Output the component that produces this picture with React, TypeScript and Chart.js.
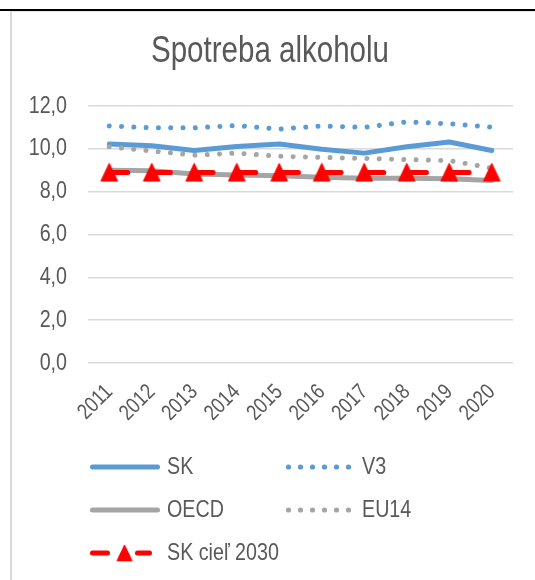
import React, { useEffect, useRef } from "react";
import { Chart, registerables } from "chart.js";

Chart.register(...registerables);

const categories = ["2011", "2012", "2013", "2014", "2015", "2016", "2017", "2018", "2019", "2020"];
const skValues = [10.22, 10.14, 9.92, 10.11, 10.23, 9.98, 9.8, 10.1, 10.32, 9.92];
const v3Values = [11.07, 10.98, 10.98, 11.09, 10.92, 11.07, 11.0, 11.26, 11.17, 11.01];
const oecdValues = [9.0, 8.98, 8.83, 8.78, 8.74, 8.67, 8.63, 8.63, 8.6, 8.52];
const eu14Values = [10.1, 9.9, 9.7, 9.8, 9.65, 9.6, 9.55, 9.5, 9.45, 9.1];
const skTarget2030 = [8.9, 8.9, 8.9, 8.9, 8.9, 8.9, 8.9, 8.9, 8.9, 8.9];
const yTicks = [0, 2, 4, 6, 8, 10, 12];
const titleText = "Spotreba alkoholu";
const legendLabels = ["SK", "V3", "OECD", "EU14", "SK cieľ 2030"];

const FONT = "'Liberation Sans Narrow', 'Arial Narrow', 'Liberation Sans', Arial, sans-serif";
const NARROW = 0.82; // horizontal condensation to mimic Arial Narrow
const TEXT = "#595959";
const BLUE = "#5B9BD5";
const GRAY = "#A5A5A5";
const RED = "#FF0000";

function makeTriangle(): HTMLCanvasElement {
  const c = document.createElement("canvas");
  c.width = 20;
  c.height = 20;
  const g = c.getContext("2d")!;
  g.fillStyle = RED;
  g.strokeStyle = RED;
  g.lineJoin = "round";
  g.lineWidth = 1.5;
  g.beginPath();
  g.moveTo(10, 1.5);
  g.lineTo(18, 18.5);
  g.lineTo(2, 18.5);
  g.closePath();
  g.fill();
  g.stroke();
  return c;
}

export default function App() {
  const ref = useRef<HTMLCanvasElement>(null);

  useEffect(() => {
    const tri = makeTriangle();

    const narrowText = {
      id: "narrowText",
      beforeInit(chart: any) {
        const ctx = chart.ctx as any;
        if (ctx.__narrow) return;
        ctx.__narrow = true;
        const orig = ctx.fillText;
        ctx.fillText = function (t: string, x: number, y: number, mw?: number) {
          this.save();
          this.translate(x, y);
          this.scale(NARROW, 1);
          if (mw !== undefined && mw !== null) orig.call(this, t, 0, 0, mw / NARROW);
          else orig.call(this, t, 0, 0);
          this.restore();
        };
      },
    };

    const legendPlugin = {
      id: "customLegend",
      afterDraw(chart: any) {
        const ctx = chart.ctx as CanvasRenderingContext2D;
        ctx.save();
        ctx.font = `24px ${FONT}`;
        ctx.fillStyle = TEXT;
        ctx.textBaseline = "middle";
        ctx.textAlign = "left";
        const rows = [467, 510, 553];
        const solid = (y: number, color: string) => {
          ctx.beginPath();
          ctx.strokeStyle = color;
          ctx.lineWidth = 5;
          ctx.lineCap = "round";
          ctx.moveTo(92.5, y);
          ctx.lineTo(157.5, y);
          ctx.stroke();
        };
        const dots = (y: number, color: string) => {
          ctx.fillStyle = color;
          for (let i = 0; i < 6; i++) {
            ctx.beginPath();
            ctx.arc(288.5 + i * 12.0, y, 2.6, 0, Math.PI * 2);
            ctx.fill();
          }
          ctx.fillStyle = TEXT;
        };
        solid(rows[0], BLUE);
        ctx.fillText(legendLabels[0], 167, rows[0]);
        dots(rows[0], BLUE);
        ctx.fillText(legendLabels[1], 362, rows[0]);
        solid(rows[1], GRAY);
        ctx.fillText(legendLabels[2], 167, rows[1]);
        dots(rows[1], GRAY);
        ctx.fillText(legendLabels[3], 362, rows[1]);
        ctx.beginPath();
        ctx.strokeStyle = RED;
        ctx.lineWidth = 5;
        ctx.lineCap = "round";
        ctx.moveTo(92.5, rows[2]);
        ctx.lineTo(107.5, rows[2]);
        ctx.moveTo(137.5, rows[2]);
        ctx.lineTo(149.5, rows[2]);
        ctx.stroke();
        ctx.drawImage(tri, 124.5 - 9, rows[2] - 9, 18, 18);
        ctx.fillText(legendLabels[4], 167, rows[2]);
        ctx.restore();
      },
    };

    const chart = new Chart(ref.current!, {
      type: "line",
      data: {
        labels: categories,
        datasets: [
          {
            label: legendLabels[0],
            data: skValues,
            borderColor: BLUE,
            borderWidth: 5,
            borderCapStyle: "round",
            borderJoinStyle: "round",
            pointRadius: 0,
            tension: 0,
            order: 4,
          },
          {
            label: legendLabels[1],
            data: v3Values,
            borderColor: BLUE,
            borderWidth: 5,
            borderDash: [0.001, 12.3],
            borderCapStyle: "round",
            pointRadius: 0,
            tension: 0,
            order: 3,
          },
          {
            label: legendLabels[2],
            data: oecdValues,
            borderColor: GRAY,
            borderWidth: 5,
            borderCapStyle: "round",
            borderJoinStyle: "round",
            pointRadius: 0,
            tension: 0,
            order: 2,
          },
          {
            label: legendLabels[3],
            data: eu14Values,
            borderColor: GRAY,
            borderWidth: 5,
            borderDash: [0.001, 12.3],
            borderCapStyle: "round",
            pointRadius: 0,
            tension: 0,
            order: 1,
          },
          {
            label: legendLabels[4],
            data: skTarget2030,
            borderColor: RED,
            backgroundColor: RED,
            borderWidth: 5,
            borderDash: [18.5, 24.17],
            borderCapStyle: "round",
            pointStyle: tri as any,
            pointRadius: 10,
            tension: 0,
            order: 0,
          },
        ],
      },
      options: {
        animation: false,
        responsive: false,
        devicePixelRatio: 1,
        layout: { padding: { top: 22, left: 27, right: 22, bottom: 150 } },
        plugins: {
          legend: { display: false },
          tooltip: { enabled: false },
          title: {
            display: true,
            text: titleText,
            color: TEXT,
            font: { family: FONT, size: 36, weight: "normal" },
            padding: { top: 8, bottom: 32.8 },
          },
        },
        scales: {
          x: {
            offset: true,
            grid: { display: false, drawTicks: false },
            border: { display: false },
            ticks: {
              autoSkip: false,
              maxRotation: 45,
              minRotation: 45,
              color: TEXT,
              font: { family: FONT, size: 22, lineHeight: 0.2 },
              padding: 24,
            },
            afterFit: (s: any) => {
              s.height = 67;
            },
          },
          y: {
            min: 0,
            max: 12,
            grid: { color: "#D9D9D9", lineWidth: 1.5, drawTicks: false },
            border: { display: false },
            afterBuildTicks: (s: any) => {
              s.ticks = yTicks.map((v) => ({ value: v }));
            },
            ticks: {
              padding: 21,
              color: TEXT,
              font: { family: FONT, size: 24 },
              callback: (v: any) => Number(v).toFixed(1).replace(".", ","),
            },
            afterFit: (s: any) => {
              s.width = 61;
            },
          },
        },
      },
      plugins: [narrowText, legendPlugin],
    });
    return () => chart.destroy();
  }, []);

  return (
    <div style={{ position: "absolute", left: 0, top: 0, width: 535, height: 580, overflow: "hidden", background: "#fff" }}>
      <div style={{ position: "absolute", left: 0, top: 9, width: 535, height: 2, background: "#000" }} />
      <div
        style={{
          position: "absolute",
          left: 10,
          top: 11,
          width: 600,
          height: 600,
          borderLeft: "2px solid #D9D9D9",
          borderTop: "1px solid #E6E6E6",
        }}
      />
      <canvas ref={ref} width={535} height={580} style={{ position: "absolute", left: 0, top: 0 }} />
    </div>
  );
}
